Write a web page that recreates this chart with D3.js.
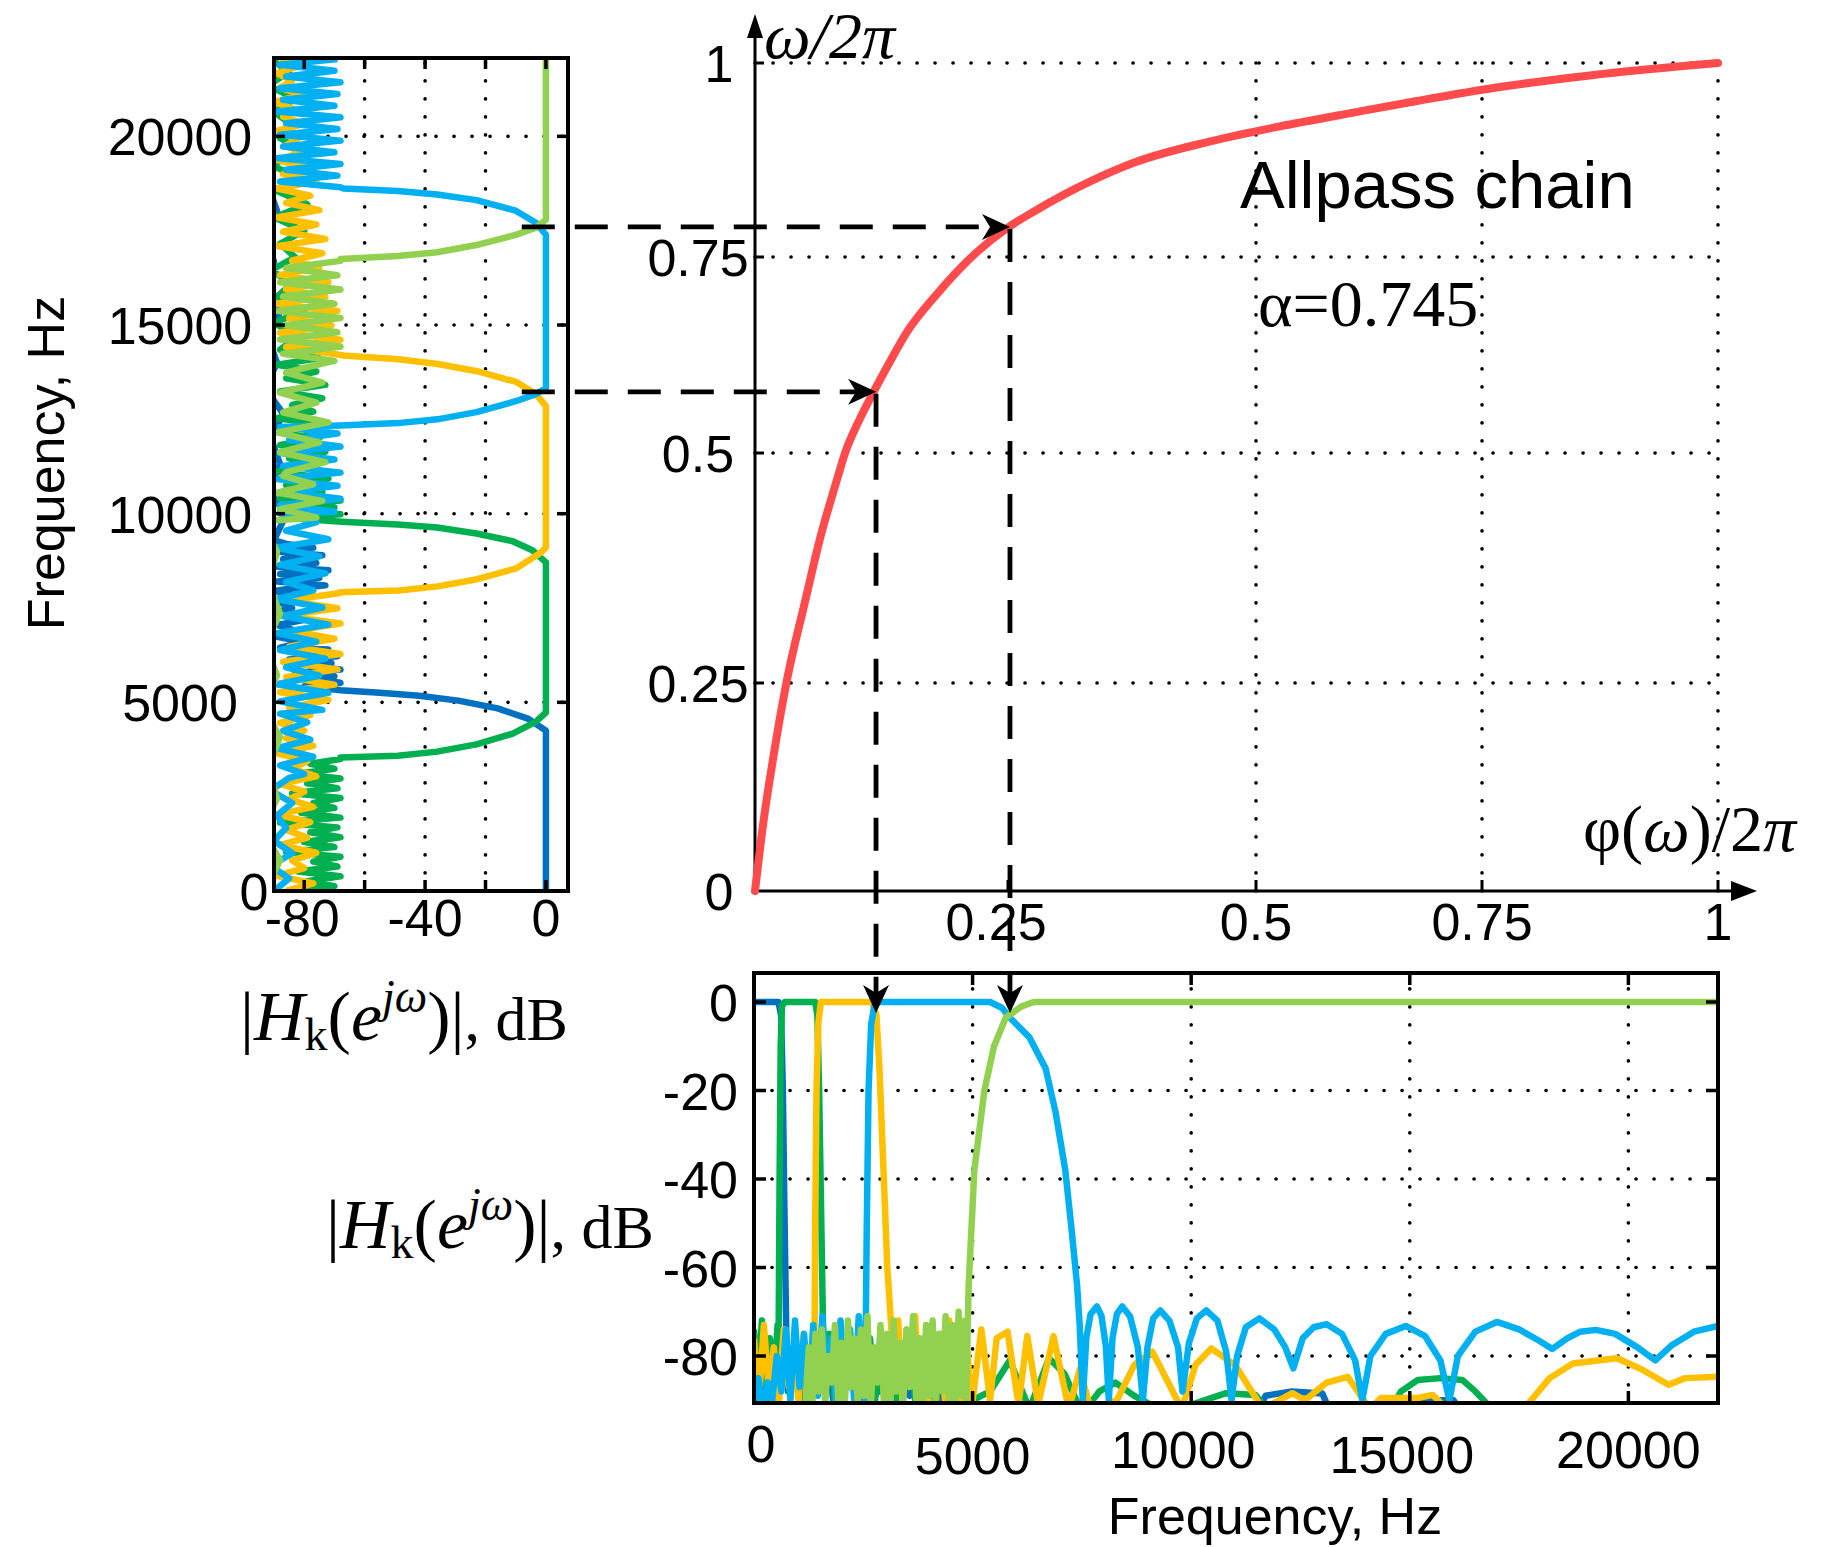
<!DOCTYPE html>
<html><head><meta charset="utf-8">
<script src="https://cdn.jsdelivr.net/npm/d3@7"></script>
<style>body{margin:0;background:#fff}</style>
</head><body>
<svg id="c" width="1837" height="1547" xmlns="http://www.w3.org/2000/svg"></svg>
<script>
// ================= DATA =================
const filterColors = ["#0070C0", "#00B050", "#FFC000", "#00B0F0", "#92D050"];

// frequency warping curve of the allpass chain: phi/2pi (x) vs omega/2pi (y)
const phiVals   = [0,0.008,0.018,0.031,0.05,0.064,0.081,0.089,0.103,0.116,0.134,0.149,0.18,0.219,0.25,0.278,0.334,0.378,0.454,0.525,0.612,0.678,0.769,0.864,1];
const omegaVals = [0,0.08,0.16,0.25,0.341,0.406,0.471,0.5,0.542,0.575,0.618,0.652,0.703,0.756,0.788,0.81,0.848,0.872,0.899,0.918,0.937,0.951,0.969,0.984,1];

// tick labels
const leftFreqTicks = [0, 5000, 10000, 15000, 20000];
const leftDbTicks = [-80, -40, 0];
const leftDbGrid = [-60, -40, -20];
const leftDbMinor = [-80, -60, -40, -20, 0];
const mainTicks = [0.25, 0.5, 0.75, 1];
const mainYTickLabels = ["0", "0.25", "0.5", "0.75", "1"];
const mainXTickLabels = ["0.25", "0.5", "0.75", "1"];
const bottomFreqTicks = [0, 5000, 10000, 15000, 20000];
const bottomDbTicks = [0, -20, -40, -60, -80];

// guide arrows: warped frequency crossing (left), point on curve (phi, omega), linear frequency (bottom)
const guides = [
  { dBStart: -8, phi: 0.1196, omega: 0.578, dBEnd: -2.5 },
  { dBStart: -8, phi: 0.252,  omega: 0.7887, dBEnd: -2.5 }
];

// ---- left panel: |H_k| vs warped frequency; entries [Hz, dB] or ripple runs {from,to,v}
const left1 = [[0,0],[4250,0],[4570,-6],[4840,-16],[5045,-29],[5175,-42],[5255,-55],[5320,-68],
  {from:5340,to:6400,v:[-70,-80,-68,-77,-70,-83,-68,-78,-71,-85,-69,-79,-72]},
  {from:6450,to:7950,v:[-88,-80,-90,-83,-89,-79,-91,-84,-88,-81,-90]},
  {from:8000,to:9200,v:[-86,-73,-89,-75,-88,-72,-90,-76,-87,-74,-89,-77,-86]},
  {from:9300,to:22050,v:[-90,-86,-92,-88,-91,-87,-93,-89,-92,-88,-94,-90,-93,-89,-92,-91,-94,-90,-93,-92]}];
const left2 = [
  {from:0,to:3500,v:[-84,-70,-79,-68,-82,-69,-77,-68,-86,-70,-80,-68,-78,-69,-88,-68,-81,-70,-77,-68,-84,-69,-79,-68,-82,-70,-78,-68]},
  [3535,-68],[3583,-49],[3694,-36],[3885,-23],[4172,-11],[4490,-3.3],[4730,0],[8710,0],[9030,-4.5],[9270,-11],[9475,-23],[9635,-36],[9715,-49],[9780,-66],
  {from:9800,to:10350,v:[-70,-86,-68,-88,-70,-84,-68]},
  {from:10400,to:14300,v:[-88,-74,-86,-72,-89,-76,-85,-73,-88,-75,-87,-72,-89,-77,-84,-74,-88,-73,-86,-76,-89,-75,-87]},
  {from:14350,to:22050,v:[-88,-82,-90,-80,-89,-84,-91,-83,-88,-80,-90,-79,-89,-82,-91,-80,-88,-84,-90,-83,-92,-85,-91]}];
const left3 = [
  {from:0,to:7900,v:[-86,-77,-89,-80,-84,-76,-88,-79,-86,-78,-89,-77,-85,-80,-88,-76,-84,-79,-89,-77,-86,-80,-88,-78,-85,-72,-88,-70,-86,-69,-87,-68,-85,-70,-84,-68,-87,-69,-86,-68]},
  [7915,-68.3],[7962,-48.8],[8073,-35.8],[8264,-22.8],[8551,-9.8],[8949,-2],[9108,0],[12850,0],[13170,-3.3],[13490,-9.8],[13775,-22.8],[13965,-35.8],[14090,-48.8],[14190,-67],
  {from:14230,to:22050,v:[-70,-86,-68,-88,-71,-85,-69,-89,-73,-86,-72,-88,-75,-84,-74,-89,-73,-87,-76,-89,-75,-86,-78,-89,-76,-87,-80,-89,-81,-86,-82,-89,-80,-87,-83,-90,-81,-88,-84,-89,-82,-88]}];
const left4 = [
  {from:0,to:3000,v:[-90,-85,-91,-84,-90,-86,-89,-84,-91,-85]},
  {from:3100,to:4700,v:[-80,-88,-77,-89,-78,-87,-79,-88]},
  {from:4800,to:10000,v:[-74,-88,-72,-89,-75,-86,-73,-88,-76,-89,-72,-87,-74,-89,-77,-86,-73,-88,-75,-89,-72,-86,-76,-88]},
  {from:10050,to:12300,v:[-70,-88,-68,-86,-69,-89,-68,-87,-70,-88,-68,-85,-69,-88]},
  [12340,-68],[12400,-49],[12500,-36],[12690,-23],[12980,-10],[13170,-3.3],[13330,0],[17390,0],[17710,-3.3],[18030,-10],[18310,-23],[18460,-36],[18550,-49],[18620,-67],
  {from:18650,to:22050,v:[-68,-88,-69,-86,-68,-89,-70,-87,-68,-88,-69,-86,-68,-89,-70,-87,-69,-88,-68,-86,-70,-88,-69]}];
const left5 = [
  {from:0,to:9800,v:[-93,-88,-94,-89,-92,-88,-94,-89,-93,-88,-92,-89,-94]},
  {from:9900,to:11000,v:[-76,-88,-74,-89,-77,-87]},
  {from:11100,to:14000,v:[-86,-73,-88,-75,-89,-72,-87,-76,-88,-74,-86,-73]},
  {from:14050,to:16700,v:[-70,-87,-68,-88,-69,-86,-68,-89,-70,-87,-68,-88,-69,-86,-68]},
  [16750,-68],[16830,-49],[16930,-36],[17120,-23],[17390,-10],[17580,-3.3],[17790,0],[22050,0]];

// ---- bottom panel: |H_k| vs linear frequency
const bottom1 = [[0,0],[560,0],[620,-3],[660,-20],[700,-50],[740,-76],
  {from:780,to:4950,v:[-88,-77,-90,-80,-86,-75,-91,-82,-87,-78,-90,-84,-88,-79,-92,-85,-89,-81,-93,-86,-90,-83,-92,-87,-91]},
  [5000,-93],[11500,-93],[11700,-89],[12300,-88],[13000,-88.5],[13200,-93],[15000,-93],[15200,-90],[16000,-90],[16200,-93],[22050,-95]];
const bottom2 = [
  {from:0,to:540,v:[-74,-88,-72,-90,-76,-86,-73]},
  [560,-80],[585,-40],[610,-10],[640,-1],[700,0],[1400,0],[1450,-3],[1490,-20],[1540,-50],[1580,-74],
  {from:1620,to:4950,v:[-88,-75,-90,-78,-86,-74,-91,-80,-87,-76,-90,-82,-88,-75,-92,-79,-86,-77,-90,-81,-88,-76,-91,-84,-87,-79,-92,-85,-89,-88]},
  [5000,-90],[5400,-88],[5850,-81],[6300,-92],[6750,-80.5],[7100,-84],[7508,-93],[7900,-88],[8267,-86],[8700,-89],[9448,-93],[10300,-90],[10798,-88.4],[11473,-88.8],[11810,-93],[14500,-93],[14800,-88],[15185,-85.4],[15700,-85],[16200,-85.4],[16500,-88],[16788,-91],[16900,-95],[22050,-95]];
const bottom3 = [
  {from:0,to:1360,v:[-76,-90,-73,-88,-78,-91,-74,-87,-80,-90,-75,-86,-79]},
  [1380,-85],[1400,-50],[1430,-20],[1470,-5],[1530,0],[2700,0],[2800,-3],[2870,-15],[2950,-35],[3050,-60],[3150,-75],
  {from:3200,to:4950,v:[-88,-72,-90,-74,-86,-71,-89,-76,-91,-73,-87,-75,-90,-72,-88,-77,-91,-74,-89]},
  [5000,-90],[5200,-74],[5400,-90],[5550,-76],[5800,-74.5],[6050,-91],[6250,-75.5],[6500,-91],[6850,-75.5],[7200,-92],[7450,-83],[7700,-92],[8300,-90],[8700,-82],[9110,-79],[9785,-92],[10100,-82],[10460,-78.3],[11000,-82],[11640,-92],[12316,-88.4],[12600,-90],[13100,-86],[13580,-84.7],[14090,-92],[14340,-89.5],[15185,-89.5],[15520,-88.8],[15860,-92],[16000,-95],[17600,-95],[17715,-90.7],[18200,-85],[18730,-81.7],[19740,-80.5],[20300,-83],[20920,-86.5],[21300,-85],[22050,-84.7]];
const bottom4 = [
  {from:0,to:2500,v:[-92,-85,-93,-86,-90,-80,-88,-74,-90,-72,-87,-75,-91,-73,-89,-71,-86,-76,-90,-72,-88,-74,-90,-71,-89]},
  [2540,-90],[2580,-50],[2620,-20],[2680,-5],[2750,-1],[2850,0],[5400,0],[5670,-1.3],[5850,-3.5],[6300,-8],[6670,-15],[6900,-25],[7120,-38],[7260,-51],[7390,-64],[7450,-73],[7520,-90],
  [7600,-76],[7700,-70.5],[7844,-68.8],[7950,-71],[8050,-78],[8116,-90],
  [8200,-76],[8300,-70.5],[8424,-68.8],[8600,-71],[8780,-78],[8895,-90],
  [9000,-78],[9130,-71.5],[9293,-69.7],[9500,-72],[9700,-78],[9801,-88],
  [9950,-77],[10130,-71.5],[10344,-69.7],[10600,-72],[10800,-79],[10924,-90],
  [11050,-80],[11250,-73.5],[11558,-71.5],[11900,-74],[12150,-78],[12337,-82.8],
  [12550,-76],[12800,-73.5],[13098,-72.8],[13450,-75],[13750,-81],[13913,-90],
  [14100,-80],[14450,-75],[14909,-73.2],[15350,-75.5],[15700,-81],[15906,-90],
  [16100,-80],[16500,-74.5],[16993,-72.3],[17500,-74],[17950,-76.5],[18261,-78.4],
  [18600,-76],[18900,-74.5],[19257,-74.1],[19700,-75],[20200,-78],[20616,-81],
  [21000,-77.5],[21500,-74.5],[22050,-73.2]];
const bottom5 = [[0,-95],[1150,-95],
  {from:1180,to:4830,v:[-90,-78,-92,-75,-88,-74,-91,-80,-86,-73,-90,-77,-92,-72,-87,-76,-91,-74,-89,-71,-92,-78,-86,-73,-90,-75,-92,-72,-88,-77,-91,-74,-87,-71,-90,-76,-92,-73,-89,-72,-91,-75,-88,-71,-90,-73,-92,-70,-89,-72]},
  [4850,-90],[4910,-64],[5040,-38],[5270,-20],[5490,-10],[5760,-3.5],[6120,-1],[6400,0],[22050,0]];

const leftCurves = [left1, left2, left3, left4, left5];
const bottomCurves = [bottom1, bottom2, bottom3, bottom4, bottom5];

// ================= DRAWING =================
function expand(parts) {
  const pts = [];
  parts.forEach(p => {
    if (Array.isArray(p)) pts.push(p);
    else { const n = p.v.length; p.v.forEach((d, i) => pts.push([p.from + (p.to - p.from) * i / (n - 1), d])); }
  });
  return pts;
}

const svg = d3.select("#c");
const SANS = "'Liberation Sans', Arial, Helvetica, sans-serif";
const SERIF = "'Liberation Serif', 'Times New Roman', serif";
const TICK_FS = 52;
const CURVE_W = 6.5;

// scales
const xL = d3.scaleLinear().domain([-90, 7.3]).range([274, 568]);
const yL = d3.scaleLinear().domain([0, 22050]).range([891, 59]);
const xM = d3.scaleLinear().domain([0, 0.25, 0.5, 0.75, 1]).range([755, 1008, 1256, 1482, 1718]);
const yM = d3.scaleLinear().domain([0, 0.25, 0.5, 0.75, 1]).range([891, 683, 453, 257, 63]);
const xB = d3.scaleLinear().domain([0, 22050]).range([754, 1718]);
const yB = d3.scaleLinear().domain([-80, 0]).range([1356, 1002]);
const LB = { x0: 274, x1: 568, y0: 58, y1: 891 };
const BB = { x0: 754, x1: 1718, y0: 973, y1: 1403 };

const defs = svg.append("defs");
defs.append("clipPath").attr("id", "clipL").append("rect")
  .attr("x", LB.x0).attr("y", LB.y0).attr("width", LB.x1 - LB.x0).attr("height", LB.y1 - LB.y0);
defs.append("clipPath").attr("id", "clipB").append("rect")
  .attr("x", BB.x0).attr("y", BB.y0).attr("width", BB.x1 - BB.x0).attr("height", BB.y1 - BB.y0);

function dotted(g, x1, y1, x2, y2) {
  g.append("line").attr("x1", x1).attr("y1", y1).attr("x2", x2).attr("y2", y2)
    .attr("stroke", "#000").attr("stroke-width", 3.6).attr("stroke-linecap", "round")
    .attr("stroke-dasharray", "0.1,17.9");
}

// ---------- LEFT PANEL ----------
const gL = svg.append("g");
leftDbGrid.forEach(d => dotted(gL, xL(d), LB.y1, xL(d), LB.y0));
leftFreqTicks.filter(f => f > 0).forEach(f => dotted(gL, LB.x0, yL(f), LB.x1, yL(f)));
const lineL = d3.line().x(d => xL(d[1])).y(d => yL(d[0]));
const gLc = gL.append("g").attr("clip-path", "url(#clipL)");
leftCurves.forEach((c, i) => {
  gLc.append("path").attr("d", lineL(expand(c))).attr("fill", "none")
    .attr("stroke", filterColors[i]).attr("stroke-width", CURVE_W).attr("stroke-linejoin", "round");
});
gL.append("rect").attr("x", LB.x0).attr("y", LB.y0).attr("width", LB.x1 - LB.x0).attr("height", LB.y1 - LB.y0)
  .attr("fill", "none").attr("stroke", "#000").attr("stroke-width", 4);
leftDbMinor.forEach(d => {
  gL.append("line").attr("x1", xL(d)).attr("x2", xL(d)).attr("y1", LB.y1).attr("y2", LB.y1 - 11).attr("stroke", "#000").attr("stroke-width", 3.5);
  gL.append("line").attr("x1", xL(d)).attr("x2", xL(d)).attr("y1", LB.y0).attr("y2", LB.y0 + 11).attr("stroke", "#000").attr("stroke-width", 3.5);
});
leftFreqTicks.forEach(f => {
  gL.append("line").attr("x1", LB.x0).attr("x2", LB.x0 + 11).attr("y1", yL(f)).attr("y2", yL(f)).attr("stroke", "#000").attr("stroke-width", 3.5);
  gL.append("line").attr("x1", LB.x1).attr("x2", LB.x1 - 11).attr("y1", yL(f)).attr("y2", yL(f)).attr("stroke", "#000").attr("stroke-width", 3.5);
});
leftFreqTicks.forEach(f => {
  gL.append("text").attr("x", f === 0 ? 254 : 180).attr("y", yL(f) + 19)
    .attr("text-anchor", "middle").attr("font-family", SANS).attr("font-size", TICK_FS).text(String(f));
});
leftDbTicks.forEach(d => {
  gL.append("text").attr("x", xL(d) - (d === -80 ? 2 : 0)).attr("y", 936)
    .attr("text-anchor", "middle").attr("font-family", SANS).attr("font-size", TICK_FS).text(String(d));
});
gL.append("text").attr("transform", "translate(64,463) rotate(-90)").attr("text-anchor", "middle")
  .attr("font-family", SANS).attr("font-size", 52).text("Frequency, Hz");

// ---------- MAIN PANEL ----------
const gM = svg.append("g");
mainTicks.forEach(v => dotted(gM, xM(0), yM(v), xM(1), yM(v)));
mainTicks.filter(v => v > 0.25).forEach(v => dotted(gM, xM(v), yM(0), xM(v), yM(1)));
// axes
gM.append("line").attr("x1", xM(0)).attr("x2", xM(0)).attr("y1", yM(0)).attr("y2", 34).attr("stroke", "#000").attr("stroke-width", 3);
gM.append("path").attr("d", `M${xM(0)},14 L${xM(0) - 8},38 L${xM(0) + 8},38 Z`).attr("fill", "#000");
gM.append("line").attr("x1", xM(0)).attr("x2", 1735).attr("y1", yM(0)).attr("y2", yM(0)).attr("stroke", "#000").attr("stroke-width", 3);
gM.append("path").attr("d", `M1757,${yM(0)} L1731,${yM(0) - 10} L1731,${yM(0) + 10} Z`).attr("fill", "#000");
mainTicks.forEach(v => {
  gM.append("line").attr("x1", xM(0)).attr("x2", xM(0) + 9).attr("y1", yM(v)).attr("y2", yM(v)).attr("stroke", "#000").attr("stroke-width", 3);
  gM.append("line").attr("x1", xM(v)).attr("x2", xM(v)).attr("y1", yM(0)).attr("y2", yM(0) - 11).attr("stroke", "#000").attr("stroke-width", 3);
});
// tick labels
mainYTickLabels.forEach((t, i) => {
  const v = [0, 0.25, 0.5, 0.75, 1][i];
  gM.append("text").attr("x", t.length > 1 ? 698 : 719).attr("y", yM(v) + 19).attr("text-anchor", "middle")
    .attr("font-family", SANS).attr("font-size", TICK_FS).text(t);
});
mainXTickLabels.forEach((t, i) => {
  gM.append("text").attr("x", xM(mainTicks[i]) - (i === 0 ? 12 : 0)).attr("y", 940).attr("text-anchor", "middle")
    .attr("font-family", SANS).attr("font-size", TICK_FS).text(t);
});
// warping curve
const lineM = d3.line().x(d => xM(d[0])).y(d => yM(d[1])).curve(d3.curveMonotoneX);
gM.append("path").attr("d", lineM(phiVals.map((p, i) => [p, omegaVals[i]])))
  .attr("fill", "none").attr("stroke", "#FF4B4B").attr("stroke-width", 8).attr("stroke-linecap", "round");
// labels
const tw = gM.append("text").attr("x", 764).attr("y", 58).attr("font-family", SERIF).attr("font-size", 66).attr("font-style", "italic");
tw.text("ω/2π");
const tp = gM.append("text").attr("x", 1583).attr("y", 851).attr("font-family", SERIF).attr("font-size", 66);
tp.append("tspan").text("φ(");
tp.append("tspan").attr("font-style", "italic").text("ω");
tp.append("tspan").text(")/2");
tp.append("tspan").attr("font-style", "italic").text("π");
gM.append("text").attr("x", 1240).attr("y", 208).attr("font-family", SANS).attr("font-size", 67).text("Allpass chain");
gM.append("text").attr("x", 1258).attr("y", 326).attr("font-family", SERIF).attr("font-size", 66).text("α=0.745");

// ---------- BOTTOM PANEL ----------
const gB = svg.append("g");
bottomFreqTicks.filter(f => f > 0).forEach(f => dotted(gB, xB(f), BB.y1, xB(f), BB.y0));
bottomDbTicks.filter(d => d < 0).forEach(d => dotted(gB, BB.x0, yB(d), BB.x1, yB(d)));
const lineB = d3.line().x(d => xB(d[0])).y(d => yB(d[1]));
const gBc = gB.append("g").attr("clip-path", "url(#clipB)");
bottomCurves.forEach((c, i) => {
  gBc.append("path").attr("d", lineB(expand(c))).attr("fill", "none")
    .attr("stroke", filterColors[i]).attr("stroke-width", CURVE_W).attr("stroke-linejoin", "round");
});
gB.append("rect").attr("x", BB.x0).attr("y", BB.y0).attr("width", BB.x1 - BB.x0).attr("height", BB.y1 - BB.y0)
  .attr("fill", "none").attr("stroke", "#000").attr("stroke-width", 4);
const bottomLabelDy = [0, 12, 6, 11, 6];
bottomFreqTicks.forEach((f, i) => {
  gB.append("line").attr("x1", xB(f)).attr("x2", xB(f)).attr("y1", BB.y1).attr("y2", BB.y1 - 12).attr("stroke", "#000").attr("stroke-width", 3.5);
  gB.append("line").attr("x1", xB(f)).attr("x2", xB(f)).attr("y1", BB.y0).attr("y2", BB.y0 + 12).attr("stroke", "#000").attr("stroke-width", 3.5);
  gB.append("text").attr("x", f === 0 ? 761 : xB(f) - (f >= 10000 && f < 20000 ? 8 : 0)).attr("y", 1462 + bottomLabelDy[i]).attr("text-anchor", "middle")
    .attr("font-family", SANS).attr("font-size", TICK_FS).text(String(f));
});
bottomDbTicks.forEach(d => {
  gB.append("line").attr("x1", BB.x0).attr("x2", BB.x0 + 12).attr("y1", yB(d)).attr("y2", yB(d)).attr("stroke", "#000").attr("stroke-width", 3.5);
  gB.append("line").attr("x1", BB.x1).attr("x2", BB.x1 - 12).attr("y1", yB(d)).attr("y2", yB(d)).attr("stroke", "#000").attr("stroke-width", 3.5);
  gB.append("text").attr("x", 738).attr("y", yB(d) + 19).attr("text-anchor", "end")
    .attr("font-family", SANS).attr("font-size", TICK_FS).text(String(d));
});
gB.append("text").attr("x", 1275).attr("y", 1534).attr("text-anchor", "middle")
  .attr("font-family", SANS).attr("font-size", 52).text("Frequency, Hz");

// |H_k(e^{jω})|, dB labels
function hLabel(x, y) {
  const t = svg.append("text").attr("x", x).attr("y", y).attr("font-family", SERIF).attr("font-size", 70);
  t.append("tspan").text("|");
  t.append("tspan").attr("font-style", "italic").text("H");
  t.append("tspan").attr("font-size", 46).attr("dy", 10).text("k");
  t.append("tspan").attr("dy", -10).text("(");
  t.append("tspan").attr("font-style", "italic").text("e");
  t.append("tspan").attr("font-style", "italic").attr("font-size", 46).attr("dy", -28).text("jω");
  t.append("tspan").attr("dy", 28).text(")|");
  t.append("tspan").attr("font-size", 62).text(", dB");
}
hLabel(240, 1040);
hLabel(326, 1248);

// ---------- GUIDE ARROWS ----------
const gG = svg.append("g");
const stealth = "M0,0 L-28,-13 L-20,0 L-28,13 Z";
guides.forEach(g => {
  const yy = yM(g.omega), xx = xM(g.phi), yEnd = yB(g.dBEnd);
  gG.append("line").attr("x1", xL(g.dBStart)).attr("x2", xx - 18).attr("y1", yy).attr("y2", yy)
    .attr("stroke", "#000").attr("stroke-width", 4.8).attr("stroke-dasharray", "33,20");
  gG.append("path").attr("d", stealth).attr("transform", `translate(${xx},${yy})`).attr("fill", "#000");
  gG.append("line").attr("x1", xx).attr("x2", xx).attr("y1", yy + 2).attr("y2", yEnd - 18)
    .attr("stroke", "#000").attr("stroke-width", 4.8).attr("stroke-dasharray", "33,20");
  gG.append("path").attr("d", stealth).attr("transform", `translate(${xx},${yEnd}) rotate(90)`).attr("fill", "#000");
});
</script>
</body></html>
